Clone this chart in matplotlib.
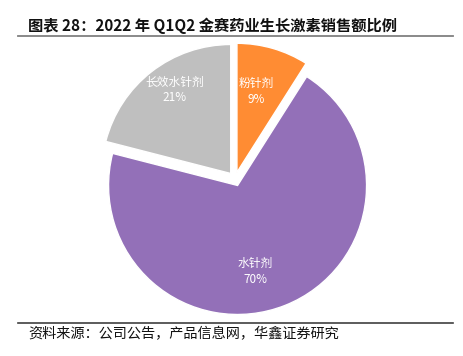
import numpy as np
import matplotlib
matplotlib.use("Agg")
import matplotlib.pyplot as plt
from matplotlib.lines import Line2D

plt.rcParams['font.family'] = ['Noto Sans CJK SC', 'DejaVu Sans']

# data
categories = ['粉针剂', '水针剂', '长效水针剂']
shares = [9, 70, 21]
colors = ['#FF8C33', '#9370B8', '#BFBFBF']
title = '图表 28：2022 年 Q1Q2 金赛药业生长激素销售额比例'
source = '资料来源：公司公告，产品信息网，华鑫证券研究'

W, H = 463, 356
fig = plt.figure(figsize=(W / 100, H / 100), dpi=100)

# pie in pixel-scaled axes (radius 1 = R px), every slice pulled out a little
R = 129
cx, cy = 235, H - 179
ax = fig.add_axes([0, 0, 1, 1])
wedges, _ = ax.pie(shares, colors=colors, explode=[0.054] * len(shares),
                   startangle=90, counterclock=False, radius=1,
                   wedgeprops=dict(edgecolor='white', linewidth=1.0))
ax.set_aspect('auto')
ax.set_xlim(-cx / R, (W - cx) / R)
ax.set_ylim(-cy / R, (H - cy) / R)
ax.axis('off')

# label placement: (radius fraction, angle shift in deg) per slice
label_pos = [(0.64, 3), (0.68, -10), (0.78, -4)]
for w, name, v, (rf, da) in zip(wedges, categories, shares, label_pos):
    ang = np.deg2rad((w.theta1 + w.theta2) / 2 + da)
    x = w.center[0] + rf * np.cos(ang)
    y = w.center[1] + rf * np.sin(ang)
    ax.text(x, y, f'{name}\n{v}%', ha='center', va='center', color='white',
            fontsize=8.5, linespacing=1.3)

# title and source
fig.text(28 / W, 1 - 26 / H, title, ha='left', va='center',
         fontsize=11, fontweight='bold', color='#111111')
fig.add_artist(Line2D([18 / W, 453 / W], [1 - 36 / H, 1 - 36 / H],
                      color='#808080', linewidth=1.3))
fig.add_artist(Line2D([18 / W, 453 / W], [1 - 323 / H, 1 - 323 / H],
                      color='#404040', linewidth=1.2))
fig.text(28 / W, 1 - 334 / H, source, ha='left', va='center',
         fontsize=10.2, color='#111111')

fig.savefig('out.png', dpi=100)
